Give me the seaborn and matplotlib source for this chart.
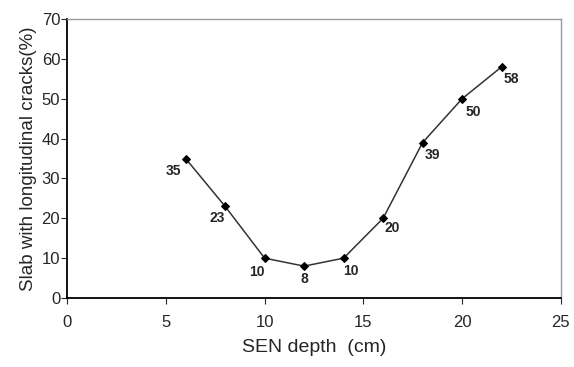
import matplotlib
matplotlib.use("Agg")
import matplotlib.pyplot as plt
import pandas as pd
import seaborn as sns

sns.set_style("white")
plt.rcParams["font.family"] = ["Liberation Sans", "DejaVu Sans"]

depth = [6, 8, 10, 12, 14, 16, 18, 20, 22]
cracks = [35, 23, 10, 8, 10, 20, 39, 50, 58]
# label offsets in pixels (dx, dy down) for each point label
offsets = [(-12, 12), (-8, 12), (-8, 14), (0, 13), (7, 13),
           (9, 10), (10, 12), (11, 13), (10, 12)]

df = pd.DataFrame({"depth": depth, "cracks": cracks})

fig = plt.figure(figsize=(5.74, 3.67), dpi=100)
ax = fig.add_axes([0.117, 0.188, 0.86, 0.76])

sns.lineplot(data=df, x="depth", y="cracks", ax=ax, color="#333333",
             linewidth=1.1, marker="D", markersize=4, markeredgecolor="black",
             markerfacecolor="black")

for x, y, (dx, dy) in zip(depth, cracks, offsets):
    ax.annotate(str(y), (x, y), xytext=(dx * 0.72, -dy * 0.72),
                textcoords="offset points", ha="center", va="center",
                fontsize=10, fontweight="bold")

ax.set_xlim(0, 25)
ax.set_ylim(0, 70)
ax.set_xticks(range(0, 26, 5))
ax.set_yticks(range(0, 71, 10))
ax.set_xlabel("SEN depth  (cm)", fontsize=14, labelpad=7)
ax.set_ylabel("Slab with longitudinal cracks(%)", fontsize=13.5, labelpad=3)
ax.tick_params(axis="x", direction="out", length=4, pad=8, labelsize=12)
ax.tick_params(axis="y", direction="out", length=4, pad=1, labelsize=12)
ax.tick_params(bottom=True, left=True)

for side in ["left", "bottom"]:
    ax.spines[side].set_color("black")
    ax.spines[side].set_linewidth(1.3)
for side in ["top", "right"]:
    ax.spines[side].set_color("#999999")
    ax.spines[side].set_linewidth(1.0)

fig.savefig("out.png", dpi=100)
